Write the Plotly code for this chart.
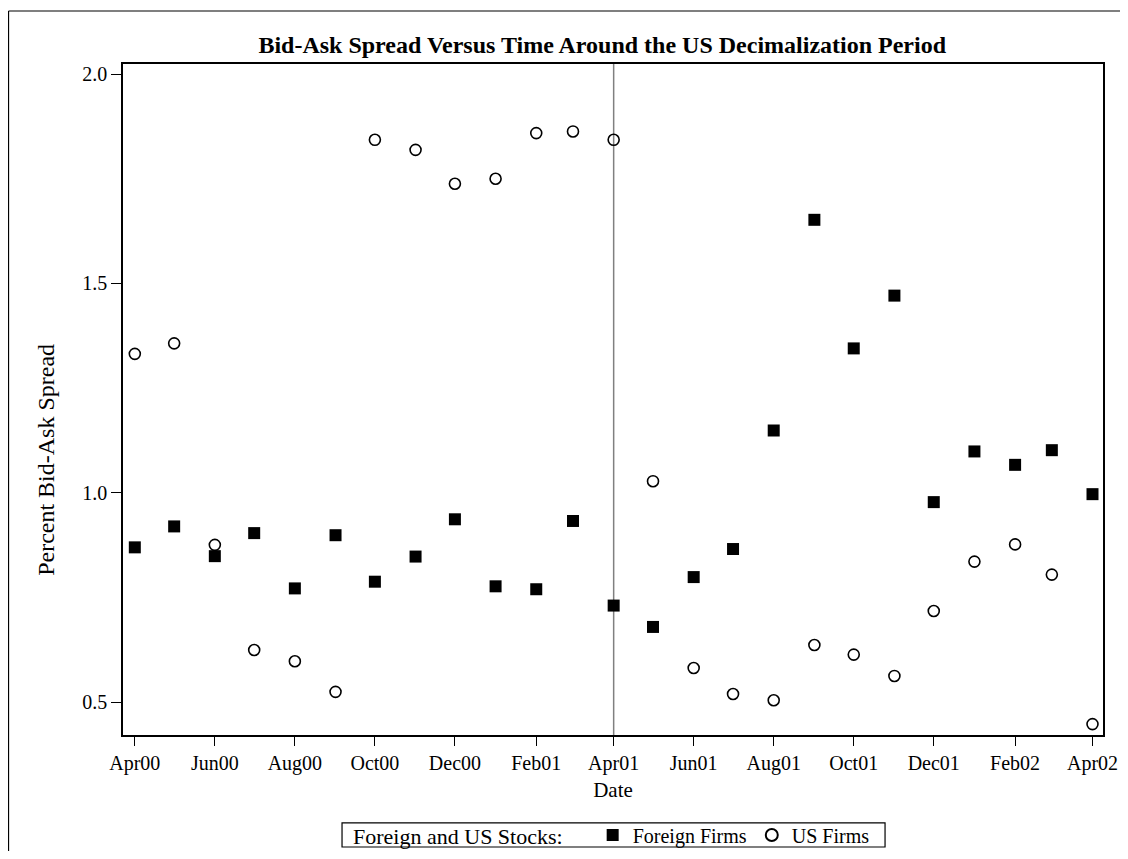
import plotly.graph_objects as go

months = ["2000-04-01", "2000-05-01", "2000-06-01", "2000-07-01", "2000-08-01",
          "2000-09-01", "2000-10-01", "2000-11-01", "2000-12-01", "2001-01-01",
          "2001-02-01", "2001-03-01", "2001-04-01", "2001-05-01", "2001-06-01",
          "2001-07-01", "2001-08-01", "2001-09-01", "2001-10-01", "2001-11-01",
          "2001-12-01", "2002-01-01", "2002-02-01", "2002-03-01", "2002-04-01"]

foreign_firms = [0.870, 0.920, 0.849, 0.904, 0.772, 0.899, 0.788, 0.848, 0.937, 0.777,
                 0.770, 0.933, 0.731, 0.680, 0.799, 0.866, 1.149, 1.652, 1.345, 1.471,
                 0.978, 1.099, 1.067, 1.102, 0.997]

us_firms = [1.332, 1.357, 0.876, 0.625, 0.598, 0.525, 1.843, 1.819, 1.738, 1.750,
            1.859, 1.863, 1.843, 1.028, 0.582, 0.520, 0.505, 0.637, 0.614, 0.563,
            0.718, 0.836, 0.877, 0.805, 0.448]

tick_dates = months[::2]
y_ticks = [0.5, 1.0, 1.5, 2.0]
event_date = "2001-04-01"

FONT = "Liberation Serif"

fig = go.Figure()
fig.add_trace(go.Scatter(
    x=months, y=foreign_firms, mode="markers", name="Foreign Firms",
    marker=dict(symbol="square", size=12, color="black", line=dict(width=0)),
))
fig.add_trace(go.Scatter(
    x=months, y=us_firms, mode="markers", name="US Firms",
    marker=dict(symbol="circle-open", size=11, color="black", line=dict(width=1.6, color="black")),
))

fig.add_shape(type="line", xref="x", yref="paper", x0=event_date, x1=event_date,
              y0=0, y1=1, line=dict(color="#808080", width=1.5), layer="below")

# outer frame (top and left edges; the rest falls outside the image)
fig.add_shape(type="line", xref="paper", yref="paper", x0=-0.1168, x1=1.05,
              y0=1.079, y1=1.079, line=dict(color="black", width=1.2))
fig.add_shape(type="line", xref="paper", yref="paper", x0=-0.1168, x1=-0.1168,
              y0=-0.3, y1=1.079, line=dict(color="black", width=1.2))

# legend frame
fig.add_shape(type="rect", xref="paper", yref="paper", x0=0.2235, x1=0.7776,
              y0=-0.1669, y1=-0.1311, line=dict(color="black", width=1.2),
              fillcolor="rgba(0,0,0,0)")

# rotated y-axis title
fig.add_annotation(text="Percent Bid-Ask Spread", xref="paper", yref="paper",
                   x=-0.0786, y=0.41, textangle=-90, showarrow=False,
                   xanchor="center", yanchor="middle",
                   font=dict(family=FONT, size=24, color="black"))

fig.update_layout(
    width=1112, height=843,
    margin=dict(l=115, r=17, t=56, b=116),
    paper_bgcolor="white", plot_bgcolor="white",
    font=dict(family=FONT, size=21, color="black"),
    title=dict(text="<b>Bid-Ask Spread Versus Time Around the US Decimalization Period</b>",
               x=0.489, xref="paper", xanchor="center", y=0.9561, yanchor="middle",
               font=dict(family=FONT, size=24, color="black")),
    showlegend=True,
    legend=dict(
        orientation="h", x=0.2327, xanchor="left", y=0.019, yanchor="middle",
        xref="paper", yref="container",
        title=dict(text="Foreign and US Stocks:&nbsp;&nbsp;&nbsp;&nbsp;", side="left",
                   font=dict(family=FONT, size=22)),
        font=dict(family=FONT, size=20, color="black"),
        borderwidth=0, bgcolor="rgba(0,0,0,0)",
        itemsizing="constant", tracegroupgap=0, itemwidth=30,
    ),
)

fig.update_xaxes(
    type="date", range=["2000-03-23", "2002-04-09"],
    tickvals=tick_dates, tickformat="%b%y",
    ticks="outside", ticklen=9, tickwidth=1.3, tickcolor="black",
    showline=True, linecolor="black", linewidth=1.5, mirror=True,
    showgrid=False, zeroline=False, automargin=False,
    title=dict(text="Date", font=dict(family=FONT, size=21), standoff=9),
    tickfont=dict(family=FONT, size=20),
)
fig.update_yaxes(
    range=[0.422, 2.024], tickvals=y_ticks, tickformat=".1f",
    ticks="outside", ticklen=10, tickwidth=1.3, tickcolor="black",
    showline=True, linecolor="black", linewidth=1.5, mirror=True,
    showgrid=False, zeroline=False, automargin=False,
    tickfont=dict(family=FONT, size=20),
)

fig.write_html("out.html")
